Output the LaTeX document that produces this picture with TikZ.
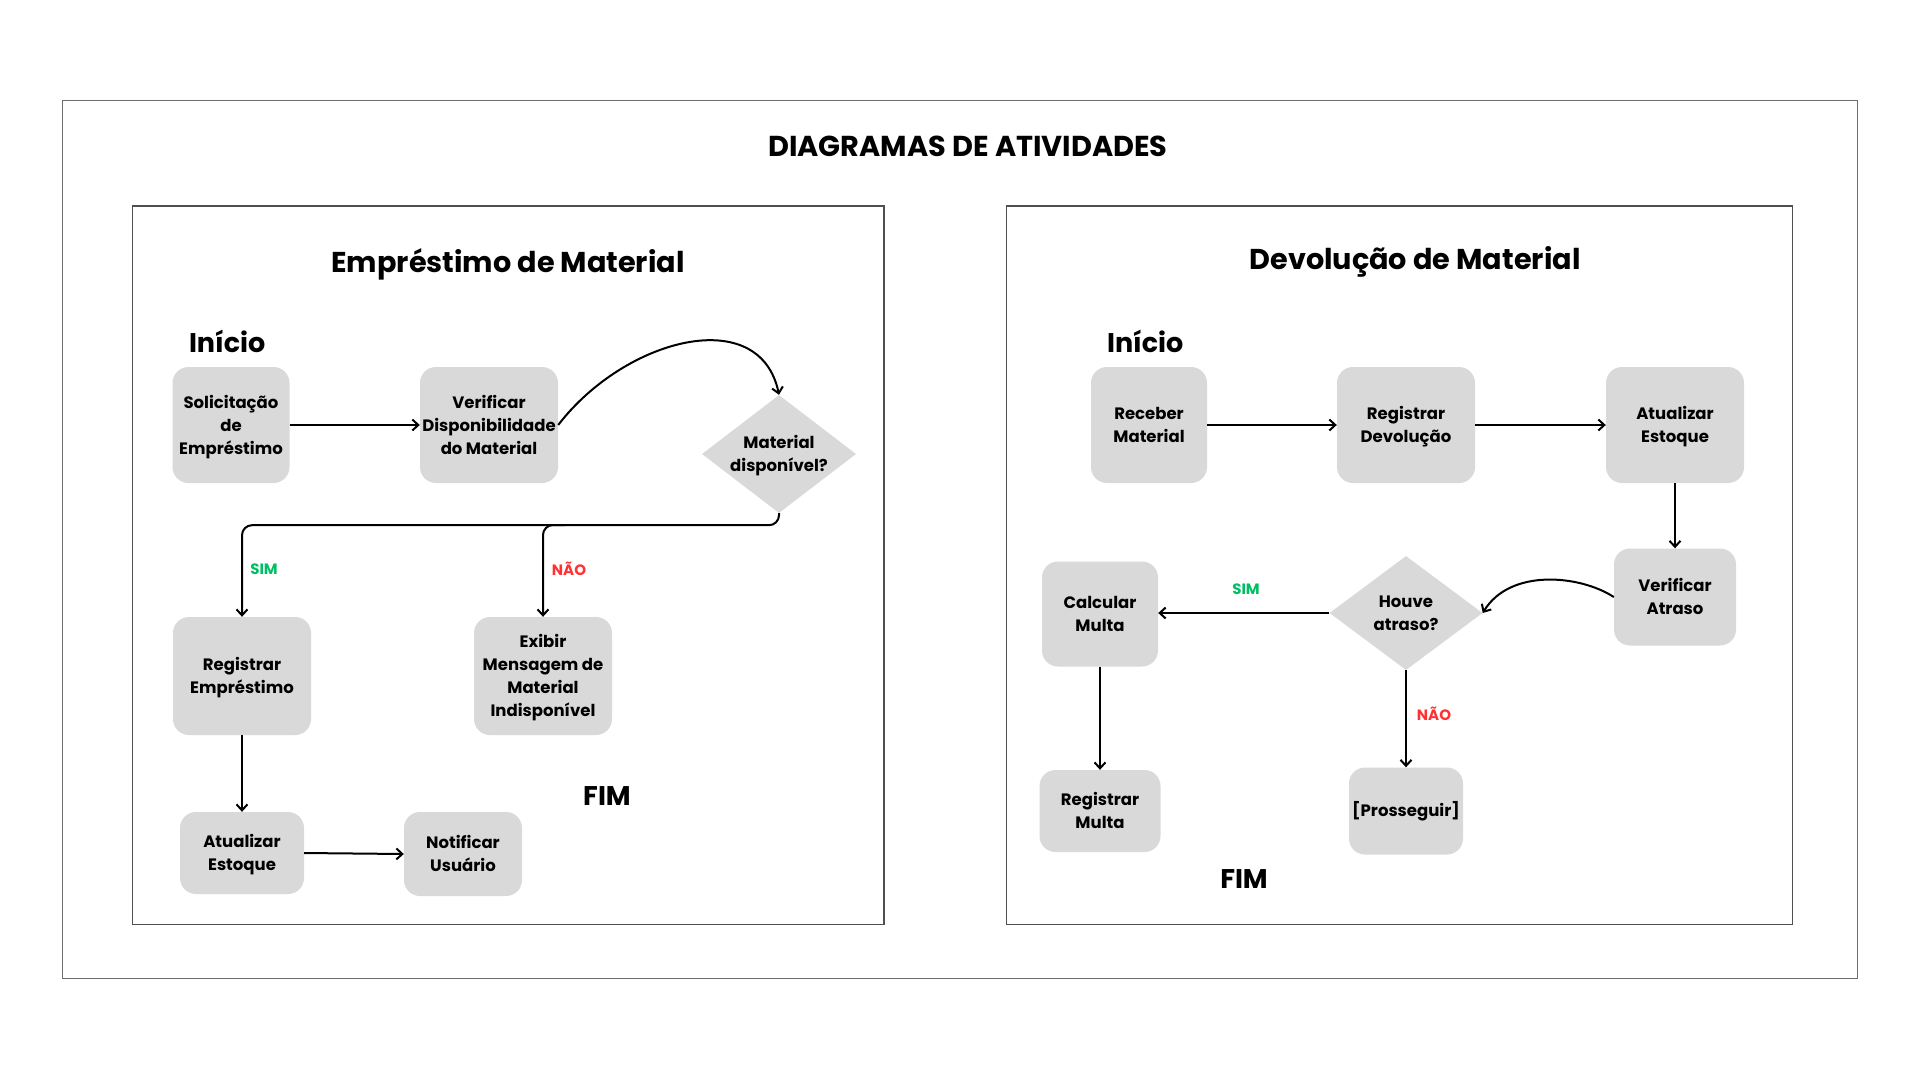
\documentclass[tikz,border=0pt]{standalone}
\usepackage{fontspec}
\setmainfont{Poppins}
\usetikzlibrary{shapes.geometric,arrows.meta}
\definecolor{boxgray}{HTML}{D9D9D9}
\definecolor{simgreen}{HTML}{00BF63}
\definecolor{naored}{HTML}{FF3131}
\definecolor{framegray}{HTML}{6E6E6E}
\definecolor{panelgray}{HTML}{505050}
\newlength\lineone
\newlength\linetwo
\newlength\linethree
\newlength\linefour
\begin{document}
\settoheight{\lineone}{\fontsize{16.5}{23}\selectfont\bfseries Receber}
\setlength{\linetwo}{\dimexpr\lineone+23pt\relax}
\setlength{\linethree}{\dimexpr\lineone+46pt\relax}
\setlength{\linefour}{\dimexpr\lineone+69pt\relax}
\begin{tikzpicture}[x=1pt,y=-1pt,
  boxtext/.style={inner sep=0pt, align=center,
    font=\fontsize{16.5}{23}\selectfont\bfseries},
  lines two/.style={text height=\linetwo, text depth=0pt},
  lines three/.style={text height=\linethree, text depth=0pt},
  lines four/.style={text height=\linefour, text depth=0pt},
  actbox/.style={boxtext, fill=boxgray, rounded corners=16pt},
  decbox/.style={fill=boxgray, shape=diamond, inner sep=0pt},
  arr/.style={draw=black, line width=2pt, -{Straight Barb[length=6pt,width=11pt]}},
  bigtitle/.style={font=\fontsize{28.8}{34}\selectfont\bfseries},
  paneltitle/.style={font=\fontsize{28.7}{34}\selectfont\bfseries},
  marker/.style={font=\fontsize{27}{32}\selectfont\bfseries},
  simlbl/.style={text=simgreen, font=\fontsize{15}{18}\selectfont\bfseries},
  naolbl/.style={text=naored, font=\fontsize{15}{18}\selectfont\bfseries},
  panel/.style={draw=panelgray, line width=1.3pt}
]
\useasboundingbox (0,0) rectangle (1920,1080);
\fill[white] (0,0) rectangle (1920,1080);

% outer frame and panels
\draw[draw=framegray, line width=1.6pt] (62.5,100.5) rectangle (1857.5,978.5);
\node[bigtitle] (maintitle) at (968,146) {DIAGRAMAS DE ATIVIDADES};
\draw[panel] (132.5,206) rectangle (884,924.5);
\draw[panel] (1006.5,206) rectangle (1792.5,924.5);

% ---------- Left panel ----------
\node[paneltitle] (ltitle) at (508,264) {Empréstimo de Material};
\node[marker, anchor=west] (linicio) at (185.5,341) {Início};

\node[actbox, lines three, minimum width=117pt, minimum height=116pt] (solic) at (231,425) {Solicitação\\de\\Empréstimo};
\node[actbox, lines three, minimum width=138pt, minimum height=116pt] (verif) at (489,425) {Verificar\\Disponibilidade\\do Material};
\node[decbox, minimum width=154pt, minimum height=118pt] (dmat) at (779,454) {};
\node[boxtext, lines two] (dmattext) at (dmat.center) {Material\\disponível?};
\node[actbox, lines two, minimum width=138pt, minimum height=118pt] (regemp) at (242,676) {Registrar\\Empréstimo};
\node[actbox, lines four, minimum width=138pt, minimum height=118pt] (exib) at (543,676) {Exibir\\Mensagem de\\Material\\Indisponível};
\node[actbox, lines two, minimum width=124pt, minimum height=82pt] (atul) at (242,853) {Atualizar\\Estoque};
\node[actbox, lines two, minimum width=118pt, minimum height=84pt] (notif) at (463,854) {Notificar\\Usuário};
\node[marker] (lfim) at (607,796) {FIM};

\node[simlbl] (lsim) at (264,569) {SIM};
\node[naolbl] (lnao) at (569,569) {NÃO};

\draw[arr] (solic) -- (verif);
\draw[arr] (verif.east) .. controls (625,338) and (760,303) .. (dmat.north);
\draw[arr, rounded corners=10pt] (dmat.south) -- ++(0,12) -| (regemp.north);
\coordinate (ljn) at (565,525);
\draw[arr, rounded corners=10pt] (ljn) -| (exib.north);
\draw[arr] (regemp) -- (atul);
\draw[arr] (atul.east) -- (notif.west);

% ---------- Right panel ----------
\node[paneltitle] (rtitle) at (1415,262) {Devolução de Material};
\node[marker, anchor=west] (rinicio) at (1103.5,341) {Início};

\node[actbox, lines two, minimum width=116pt, minimum height=116pt] (receb) at (1149,425) {Receber\\Material};
\node[actbox, lines two, minimum width=138pt, minimum height=116pt] (regdev) at (1406,425) {Registrar\\Devolução};
\node[actbox, lines two, minimum width=138pt, minimum height=116pt] (atur) at (1675,425) {Atualizar\\Estoque};
\node[actbox, lines two, minimum width=122pt, minimum height=97pt] (vatr) at (1675,597) {Verificar\\Atraso};
\node[decbox, minimum width=153pt, minimum height=114pt] (dhouve) at (1406,613) {};
\node[boxtext, lines two] (dhouvetext) at (dhouve.center) {Houve\\atraso?};
\node[actbox, lines two, minimum width=116pt, minimum height=105pt] (calc) at (1100,614) {Calcular\\Multa};
\node[actbox, lines two, minimum width=121pt, minimum height=82pt] (regm) at (1100,811) {Registrar\\Multa};
\node[actbox, minimum width=114pt, minimum height=87pt] (pros) at (1406,811) {[Prosseguir]};
\node[marker] (rfim) at (1244,879) {FIM};

\node[simlbl] (rsim) at (1246,589) {SIM};
\node[naolbl] (rnao) at (1434,714) {NÃO};

\draw[arr] (receb) -- (regdev);
\draw[arr] (regdev) -- (atur);
\draw[arr] (atur) -- (vatr);
\draw[arr] (vatr.west) .. controls (1580,575) and (1510,568) .. (dhouve.east);
\draw[arr] (dhouve.west) -- (dhouve.west -| calc.east);
\draw[arr] (dhouve) -- (pros);
\draw[arr] (calc) -- (regm);
\end{tikzpicture}
\end{document}
